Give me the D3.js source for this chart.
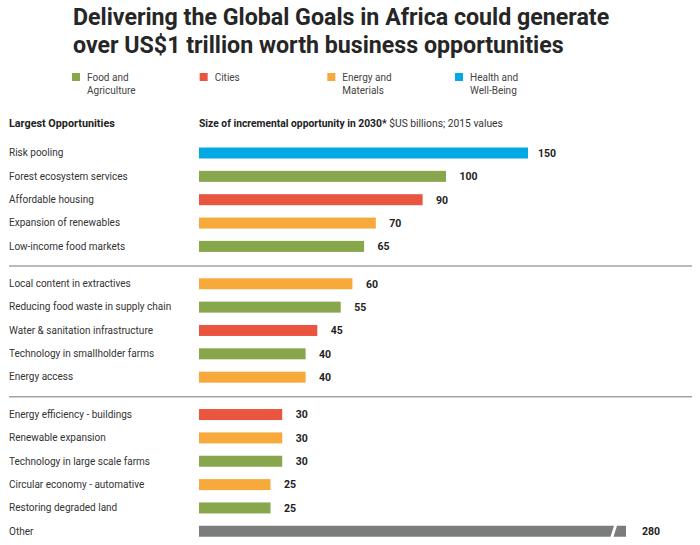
<!DOCTYPE html>
<html>
<head>
<meta charset="utf-8">
<script src="https://cdn.jsdelivr.net/npm/d3@7"></script>
<style>
  html, body { margin: 0; padding: 0; background: #fff; }
  svg { display: block; font-family: Roboto, "Liberation Sans", Arial, sans-serif; }
</style>
</head>
<body>
<svg id="chart" width="700" height="545"></svg>
<script>
// ---- data ----
const titleLines = ["Delivering the Global Goals in Africa could generate",
                    "over US$1 trillion worth business opportunities"];
const categories = [
  "Risk pooling", "Forest ecosystem services", "Affordable housing", "Expansion of renewables", "Low-income food markets",
  "Local content in extractives", "Reducing food waste in supply chain", "Water & sanitation infrastructure", "Technology in smallholder farms", "Energy access",
  "Energy efficiency - buildings", "Renewable expansion", "Technology in large scale farms", "Circular economy - automative", "Restoring degraded land", "Other"
];
const values = [150, 100, 90, 70, 65, 60, 55, 45, 40, 40, 30, 30, 30, 25, 25, 280];
const sectors = ["Health", "Food", "Cities", "Energy", "Food",
                 "Energy", "Food", "Cities", "Food", "Energy",
                 "Cities", "Energy", "Food", "Energy", "Food", "Other"];
const groups = [0,0,0,0,0, 1,1,1,1,1, 2,2,2,2,2,2];
const legendKeys = ["Food", "Cities", "Energy", "Health"];
const legendLabels = [["Food and", "Agriculture"], ["Cities"], ["Energy and", "Materials"], ["Health and", "Well-Being"]];
const headerLeft = "Largest Opportunities";
const headerRightBold = "Size of incremental opportunity in 2030*";
const headerRightReg = " $US billions; 2015 values";

// ---- styles ----
const colors = { Food: "#88a64b", Cities: "#e9553f", Energy: "#f7a93b", Health: "#03a9e3", Other: "#7b7c7c" };

const svg = d3.select("#chart");

// Title
svg.append("g").selectAll("text").data(titleLines).join("text")
  .attr("x", 73).attr("y", (d, i) => 25 + i * 27.5)
  .attr("font-size", 23.2).attr("font-weight", 700).attr("fill", "#262626")
  .text(d => d);

// Legend
const legendX = d3.scalePoint().domain(legendKeys).range([72, 455]);
const lg = svg.append("g").selectAll("g").data(legendKeys).join("g")
  .attr("transform", d => `translate(${legendX(d)},73)`);
lg.append("rect").attr("width", 8).attr("height", 8).attr("fill", d => colors[d]);
lg.append("text").attr("x", 15).attr("font-size", 10).attr("fill", "#444")
  .selectAll("tspan").data((d, i) => legendLabels[i]).join("tspan")
  .attr("x", 15).attr("y", (d, i) => 7.5 + i * 13).text(d => d);

// Headers
svg.append("text").attr("x", 9).attr("y", 127).attr("font-size", 10.8).attr("font-weight", 700)
  .attr("fill", "#222").text(headerLeft);
const hr = svg.append("text").attr("x", 199).attr("y", 127).attr("font-size", 10.3).attr("fill", "#222");
hr.append("tspan").attr("font-weight", 700).text(headerRightBold);
hr.append("tspan").attr("font-weight", 400).attr("fill", "#333").text(headerRightReg);

// Scales
const x0 = 199;
const x = d3.scaleLinear().domain([0, 100, 150, 280]).range([212, 446, 528, 626]);
const pos = categories.map((c, i) => i + 0.6 * groups[i]);
const y = d3.scaleLinear().domain([0, 16.2]).range([153, 531.3]);
const barH = 11;

const rows = categories.map((c, i) => ({ c, v: values[i], s: sectors[i], p: pos[i] }));

// Separator lines
const seps = [(pos[4] + pos[5]) / 2, (pos[9] + pos[10]) / 2];
svg.append("g").selectAll("line").data(seps).join("line")
  .attr("x1", 9).attr("x2", 692)
  .attr("y1", d => y(d) + 1).attr("y2", d => y(d) + 1)
  .attr("stroke", "#a3a3a3").attr("stroke-width", 1.5);

// Category labels
svg.append("g").selectAll("text").data(rows).join("text")
  .attr("x", 9).attr("y", d => y(d.p) + 3.3)
  .attr("font-size", 10).attr("fill", "#333").text(d => d.c);

// Bars (normal)
const normal = rows.filter(d => d.s !== "Other");
svg.append("g").selectAll("rect").data(normal).join("rect")
  .attr("x", x0).attr("y", d => y(d.p) - barH / 2)
  .attr("width", d => x(d.v) - x0).attr("height", barH)
  .attr("fill", d => colors[d.s]);

// Broken bar for "Other"
const other = rows.filter(d => d.s === "Other");
const og = svg.append("g");
other.forEach(d => {
  const xe = x(d.v), yt = y(d.p) - barH / 2, yb = y(d.p) + barH / 2;
  const cut = xe - 12, slant = 3.5, gap = 3;
  og.append("path")
    .attr("d", `M${x0},${yt}L${cut},${yt}L${cut - slant},${yb}L${x0},${yb}Z`)
    .attr("fill", colors.Other);
  og.append("path")
    .attr("d", `M${cut + gap},${yt}L${xe},${yt}L${xe},${yb}L${cut + gap - slant},${yb}Z`)
    .attr("fill", colors.Other);
});

// Value labels
svg.append("g").selectAll("text").data(rows).join("text")
  .attr("x", d => x(d.v) + (d.s === "Other" ? 16 : (d.v === 150 ? 10 : 13.5)))
  .attr("y", d => y(d.p) + 3.8)
  .attr("font-size", 10.5).attr("font-weight", 700).attr("fill", "#222")
  .text(d => d.v);
</script>
</body>
</html>
